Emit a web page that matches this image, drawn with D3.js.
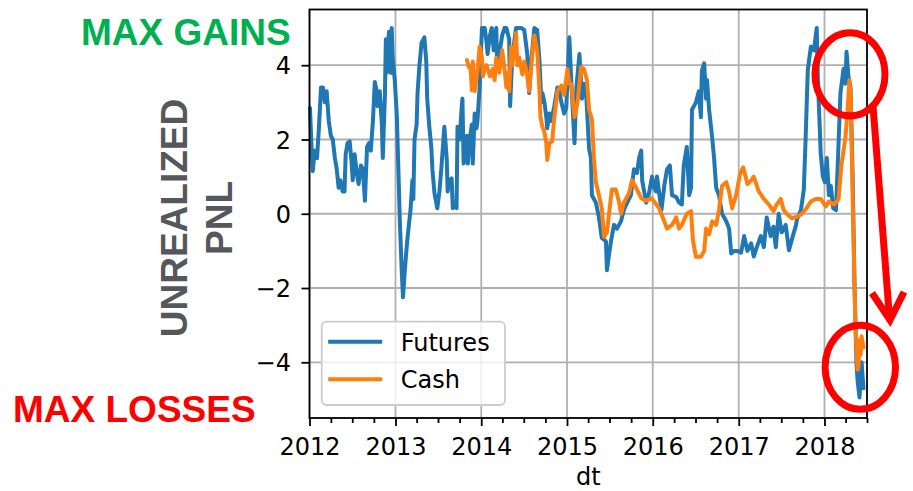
<!DOCTYPE html>
<html>
<head>
<meta charset="utf-8">
<script src="https://cdn.jsdelivr.net/npm/d3@7"></script>
<style>
  html, body { margin: 0; padding: 0; background: #fff; }
  svg { display: block; }
</style>
</head>
<body>
<svg id="chart" width="913" height="491"></svg>
<script>
// --- data ---
const futures = [
  ["2012-01-03", 2.85], ["2012-01-11", 1.6], ["2012-01-15", 1.15], ["2012-01-23", 1.7],
  ["2012-02-02", 1.5], ["2012-02-10", 2.3], ["2012-02-19", 3.4], ["2012-02-27", 3.4],
  ["2012-03-06", 3.0], ["2012-03-14", 3.3], ["2012-03-23", 2.5], ["2012-04-01", 2.1],
  ["2012-04-09", 2.0], ["2012-04-18", 1.5], ["2012-04-26", 1.2], ["2012-05-04", 0.7],
  ["2012-05-12", 0.9], ["2012-05-21", 0.6], ["2012-05-29", 0.6], ["2012-06-03", 1.6],
  ["2012-06-11", 1.9], ["2012-06-20", 1.95], ["2012-06-28", 1.4], ["2012-07-03", 0.9],
  ["2012-07-11", 1.6], ["2012-07-20", 1.1], ["2012-07-28", 0.8], ["2012-08-07", 1.3],
  ["2012-08-15", 1.2], ["2012-08-24", 0.35], ["2012-09-02", 1.8], ["2012-09-10", 1.9],
  ["2012-09-18", 1.7], ["2012-09-27", 2.5], ["2012-10-05", 3.55], ["2012-10-13", 3.3],
  ["2012-10-17", 2.9], ["2012-10-26", 3.3], ["2012-11-04", 2.4], ["2012-11-08", 1.5],
  ["2012-11-17", 3.2], ["2012-11-21", 4.7], ["2012-11-25", 3.8], ["2012-12-04", 4.9],
  ["2012-12-12", 3.8], ["2012-12-16", 5.0], ["2012-12-20", 4.2], ["2012-12-29", 3.6],
  ["2013-01-07", 2.6], ["2013-01-15", 0.8], ["2013-01-19", -0.1], ["2013-01-28", -1.6],
  ["2013-02-02", -2.25], ["2013-02-10", -1.5], ["2013-02-19", -0.8], ["2013-02-27", -0.3],
  ["2013-03-06", 0.1], ["2013-03-14", 0.9], ["2013-03-18", 0.4], ["2013-03-23", 2.0],
  ["2013-04-01", 2.4], ["2013-04-05", 3.25], ["2013-04-13", 4.0], ["2013-04-22", 4.6],
  ["2013-05-04", 4.75], ["2013-05-12", 4.1], ["2013-05-16", 3.1], ["2013-05-25", 2.34],
  ["2013-06-03", 1.75], ["2013-06-07", 1.2], ["2013-06-16", 0.55], ["2013-06-28", 0.15],
  ["2013-07-07", 0.6], ["2013-07-15", 1.2], ["2013-07-28", 2.34], ["2013-08-07", 1.5],
  ["2013-08-11", 0.6], ["2013-08-19", 0.9], ["2013-08-28", 0.95], ["2013-09-02", 0.15],
  ["2013-09-10", 0.3], ["2013-09-18", 0.15], ["2013-09-22", 2.34], ["2013-10-01", 2.0],
  ["2013-10-09", 2.8], ["2013-10-13", 3.1], ["2013-10-18", 1.35], ["2013-10-26", 1.9],
  ["2013-11-01", 2.1], ["2013-11-05", 1.35], ["2013-11-13", 2.0], ["2013-11-22", 2.4],
  ["2013-11-26", 1.35], ["2013-12-04", 2.7], ["2013-12-12", 2.3], ["2013-12-16", 2.5],
  ["2013-12-25", 3.4], ["2014-01-04", 5.0], ["2014-01-16", 5.0], ["2014-01-24", 4.6],
  ["2014-01-28", 4.3], ["2014-02-07", 4.8], ["2014-02-15", 5.0], ["2014-02-23", 4.4],
  ["2014-03-06", 5.0], ["2014-03-10", 3.9], ["2014-03-19", 4.3], ["2014-03-31", 4.8],
  ["2014-04-10", 5.0], ["2014-04-18", 5.0], ["2014-04-30", 4.7], ["2014-05-04", 2.9],
  ["2014-05-12", 4.1], ["2014-05-21", 4.6], ["2014-05-29", 5.0], ["2014-06-12", 5.0],
  ["2014-06-20", 5.0], ["2014-07-03", 4.95], ["2014-07-16", 4.3], ["2014-07-24", 3.25],
  ["2014-08-02", 4.1], ["2014-08-15", 5.0], ["2014-08-27", 4.95], ["2014-09-06", 4.1],
  ["2014-09-14", 3.0], ["2014-09-18", 3.25], ["2014-09-27", 3.0], ["2014-10-05", 2.6],
  ["2014-10-09", 2.3], ["2014-10-18", 2.7], ["2014-10-26", 2.5], ["2014-11-08", 2.9],
  ["2014-11-21", 3.4], ["2014-11-29", 3.3], ["2014-12-08", 3.0], ["2014-12-20", 2.7],
  ["2014-12-29", 2.85], ["2015-01-11", 4.75], ["2015-01-19", 3.6], ["2015-02-02", 1.9],
  ["2015-02-10", 3.4], ["2015-02-23", 4.3], ["2015-03-06", 3.1], ["2015-03-14", 3.5],
  ["2015-03-23", 3.3], ["2015-04-05", 1.75], ["2015-04-13", 1.5], ["2015-04-17", 0.5],
  ["2015-05-04", 0.3], ["2015-05-17", -0.1], ["2015-05-29", -0.65], ["2015-06-08", -0.7],
  ["2015-06-16", -0.75], ["2015-06-20", -1.52], ["2015-06-29", -1.1], ["2015-07-07", -0.75],
  ["2015-07-20", -0.3], ["2015-08-02", -0.4], ["2015-08-19", -0.2], ["2015-08-31", 0.1],
  ["2015-09-14", 0.3], ["2015-09-30", 0.5], ["2015-10-13", 1.2], ["2015-10-26", 1.1],
  ["2015-11-04", 1.5], ["2015-11-13", 1.7], ["2015-11-17", 0.9], ["2015-12-04", 0.3],
  ["2015-12-16", 0.55], ["2015-12-29", 1.0], ["2016-01-07", 0.7], ["2016-01-15", 0.6],
  ["2016-01-19", 1.0], ["2016-02-07", 0.1], ["2016-02-19", 0.75], ["2016-03-02", 1.2],
  ["2016-03-14", 1.3], ["2016-03-23", 0.5], ["2016-04-10", 0.45], ["2016-04-22", 0.3],
  ["2016-05-04", 0.25], ["2016-05-12", 1.3], ["2016-05-25", 1.8], ["2016-06-04", 0.5],
  ["2016-06-12", 0.7], ["2016-06-16", 2.8], ["2016-07-03", 3.0], ["2016-07-15", 3.3],
  ["2016-07-24", 2.6], ["2016-07-28", 3.85], ["2016-08-07", 4.05], ["2016-08-15", 3.1],
  ["2016-08-19", 3.6], ["2016-08-28", 2.8], ["2016-09-10", 2.05], ["2016-09-18", 1.5],
  ["2016-09-27", 0.7], ["2016-10-09", 0.5], ["2016-10-22", 0.0], ["2016-11-09", -0.2],
  ["2016-11-21", -0.4], ["2016-11-30", -1.07], ["2016-12-12", -1.0], ["2016-12-25", -1.0],
  ["2017-01-11", -1.05], ["2017-01-24", -0.6], ["2017-02-07", -1.0], ["2017-02-23", -0.8],
  ["2017-03-06", -1.15], ["2017-03-19", -0.9], ["2017-04-05", -0.6], ["2017-04-18", -0.9],
  ["2017-04-30", -0.1], ["2017-05-17", -0.6], ["2017-05-29", -0.35], ["2017-06-08", -0.9],
  ["2017-06-20", 0.0], ["2017-07-03", -0.5], ["2017-07-20", -0.3], ["2017-08-03", -0.98],
  ["2017-08-15", -0.7], ["2017-09-02", -0.3], ["2017-09-06", -0.15], ["2017-09-23", 0.1],
  ["2017-10-05", 0.65], ["2017-10-13", 2.07], ["2017-10-22", 3.87], ["2017-11-04", 4.5],
  ["2017-11-17", 4.4], ["2017-11-29", 5.0], ["2017-12-04", 3.6], ["2017-12-12", 2.3],
  ["2017-12-16", 1.62], ["2017-12-25", 1.0], ["2018-01-03", 0.85], ["2018-01-11", 1.5],
  ["2018-01-20", 0.5], ["2018-01-28", 0.75], ["2018-02-07", 0.15], ["2018-02-19", 0.1],
  ["2018-03-02", 1.9], ["2018-03-10", 3.25], ["2018-03-23", 3.9], ["2018-03-31", 3.5],
  ["2018-04-05", 4.36], ["2018-04-13", 3.7], ["2018-04-22", 3.4], ["2018-05-01", 1.0],
  ["2018-05-09", -2.0], ["2018-05-17", -4.0], ["2018-05-22", -4.5], ["2018-05-30", -4.95],
  ["2018-06-08", -4.0], ["2018-06-16", -4.7]
];

const cash = [
  ["2013-11-01", 4.14], ["2013-11-09", 3.95], ["2013-11-17", 3.9], ["2013-11-22", 3.33],
  ["2013-11-26", 4.1], ["2013-12-04", 3.3], ["2013-12-16", 3.85], ["2013-12-25", 4.5],
  ["2014-01-04", 4.2], ["2014-01-08", 3.7], ["2014-01-16", 3.9], ["2014-01-24", 4.0],
  ["2014-02-07", 3.7], ["2014-02-19", 3.9], ["2014-02-27", 3.6], ["2014-03-06", 4.2],
  ["2014-03-19", 3.8], ["2014-03-31", 4.4], ["2014-04-10", 3.9], ["2014-04-18", 3.4],
  ["2014-04-22", 3.8], ["2014-04-30", 3.3], ["2014-05-08", 4.5], ["2014-05-12", 4.0],
  ["2014-05-21", 4.3], ["2014-05-29", 4.87], ["2014-06-04", 4.0], ["2014-06-12", 4.2],
  ["2014-06-25", 3.75], ["2014-07-03", 4.1], ["2014-07-11", 3.9], ["2014-07-16", 3.7],
  ["2014-07-24", 3.3], ["2014-08-02", 4.0], ["2014-08-15", 4.8], ["2014-08-27", 4.4],
  ["2014-09-06", 3.3], ["2014-09-10", 2.6], ["2014-09-18", 2.35], ["2014-09-27", 2.2],
  ["2014-10-05", 1.9], ["2014-10-09", 1.45], ["2014-10-18", 1.9], ["2014-10-30", 1.95],
  ["2014-11-08", 2.6], ["2014-11-16", 3.0], ["2014-11-21", 3.3], ["2014-12-08", 3.45],
  ["2014-12-20", 3.2], ["2015-01-03", 3.9], ["2015-01-11", 3.5], ["2015-01-19", 3.5],
  ["2015-02-02", 2.6], ["2015-02-15", 3.0], ["2015-02-23", 3.5], ["2015-03-02", 3.95],
  ["2015-03-14", 3.9], ["2015-03-27", 3.6], ["2015-04-05", 2.8], ["2015-04-17", 2.55],
  ["2015-04-26", 1.45], ["2015-05-04", 0.85], ["2015-05-17", 0.5], ["2015-05-29", 0.15],
  ["2015-06-08", -0.62], ["2015-06-20", -0.5], ["2015-06-29", 0.0], ["2015-07-11", 0.65],
  ["2015-07-28", 0.65], ["2015-08-11", 0.3], ["2015-08-19", 0.0], ["2015-08-31", 0.3],
  ["2015-09-22", 0.55], ["2015-10-05", 0.9], ["2015-10-22", 0.7], ["2015-11-13", 0.42],
  ["2015-12-04", 0.35], ["2015-12-25", 0.42], ["2016-01-07", 0.33], ["2016-01-28", 0.15],
  ["2016-02-19", -0.2], ["2016-03-02", -0.4], ["2016-03-23", -0.3], ["2016-04-10", -0.1],
  ["2016-04-22", -0.4], ["2016-05-04", -0.3], ["2016-05-25", 0.0], ["2016-06-12", 0.07],
  ["2016-06-20", -0.72], ["2016-07-03", -1.16], ["2016-07-24", -1.16], ["2016-08-07", -1.0],
  ["2016-08-15", -0.4], ["2016-08-28", -0.55], ["2016-09-10", -0.2], ["2016-09-27", -0.3],
  ["2016-10-09", 0.1], ["2016-10-22", 0.75], ["2016-11-09", 0.85], ["2016-11-21", 0.6],
  ["2016-12-04", 0.15], ["2016-12-21", 0.5], ["2017-01-07", 1.08], ["2017-01-20", 1.25],
  ["2017-02-07", 0.8], ["2017-02-23", 0.9], ["2017-03-06", 1.0], ["2017-03-27", 0.6],
  ["2017-04-18", 0.4], ["2017-05-09", 0.25], ["2017-05-29", 0.07], ["2017-06-12", 0.25],
  ["2017-06-29", 0.4], ["2017-07-11", 0.1], ["2017-07-24", 0.0], ["2017-08-15", -0.12],
  ["2017-09-06", -0.08], ["2017-09-27", 0.0], ["2017-10-17", 0.15], ["2017-11-04", 0.33],
  ["2017-11-25", 0.4], ["2017-12-16", 0.4], ["2018-01-07", 0.2], ["2018-01-20", 0.33],
  ["2018-02-11", 0.25], ["2018-03-02", 0.4], ["2018-03-14", 1.3], ["2018-03-31", 2.05],
  ["2018-04-09", 2.75], ["2018-04-17", 3.6], ["2018-04-22", 3.25], ["2018-04-26", 2.0],
  ["2018-05-05", -0.8], ["2018-05-13", -3.05], ["2018-05-17", -3.6], ["2018-05-22", -4.2],
  ["2018-05-26", -4.1], ["2018-05-30", -3.4], ["2018-06-04", -3.8], ["2018-06-08", -3.3],
  ["2018-06-16", -3.6]
];

const seriesNames  = ["Futures", "Cash"];
const seriesColors = ["#1f77b4", "#ff7f0e"];
const yTicks  = [-4, -2, 0, 2, 4];
const xYears  = [2012, 2013, 2014, 2015, 2016, 2017, 2018];
const xLabel  = "dt";
const yLabel  = ["UNREALIZED", "PNL"];

// --- scales ---
const parse = d3.timeParse("%Y-%m-%d");
const plot = { left: 309.5, right: 867, top: 9.5, bottom: 418 };

const x = d3.scaleTime()
  .domain([new Date(2012, 0, 1), new Date(2018, 6, 1)])
  .range([plot.left, plot.right]);
const y = d3.scaleLinear()
  .domain([-5.5, 5.5])
  .range([plot.bottom, plot.top]);

const svg = d3.select("#chart");
const tickFont = "'DejaVu Sans', sans-serif";
const boldFont = "'Liberation Sans', Arial, sans-serif";

const yearDates  = xYears.map(yr => new Date(yr, 0, 1));
const minorDates = d3.timeMonth.every(3).range(x.domain()[0], d3.timeDay.offset(x.domain()[1], 1))
  .filter(d => d.getMonth() !== 0);

// --- grid ---
const grid = svg.append("g").attr("stroke", "#b0b0b0").attr("stroke-width", 1.8);
grid.selectAll(".gx").data(yearDates).join("line")
  .attr("x1", d => x(d)).attr("x2", d => x(d))
  .attr("y1", plot.top).attr("y2", plot.bottom);
grid.selectAll(".gy").data(yTicks).join("line")
  .attr("x1", plot.left).attr("x2", plot.right)
  .attr("y1", d => y(d)).attr("y2", d => y(d));

// --- series ---
const line = d3.line()
  .x(d => x(parse(d[0])))
  .y(d => y(d[1]));

[futures, cash].forEach((s, i) => {
  svg.append("path")
    .datum(s)
    .attr("fill", "none")
    .attr("stroke", seriesColors[i])
    .attr("stroke-width", 4)
    .attr("stroke-linejoin", "round")
    .attr("stroke-linecap", "round")
    .attr("d", line);
});

// --- axes ---
const xAxis = svg.append("g")
  .attr("transform", `translate(0,${plot.bottom})`)
  .call(d3.axisBottom(x).tickValues(yearDates).tickFormat(d3.timeFormat("%Y"))
    .tickSize(8).tickPadding(12));
const xMinor = svg.append("g")
  .attr("transform", `translate(0,${plot.bottom})`)
  .call(d3.axisBottom(x).tickValues(minorDates).tickFormat("").tickSize(5));
const yAxis = svg.append("g")
  .attr("transform", `translate(${plot.left},0)`)
  .call(d3.axisLeft(y).tickValues(yTicks).tickFormat(d3.format("d"))
    .tickSize(8).tickPadding(10.5));

[xAxis, xMinor, yAxis].forEach(g => {
  g.select(".domain").remove();
  g.selectAll(".tick line").attr("stroke", "#000").attr("stroke-width", 1.8);
  g.selectAll("text")
    .attr("fill", "#000")
    .style("font-family", tickFont)
    .style("font-size", "24px");
});
yAxis.selectAll("text").attr("dy", "0.36em");

// spines
svg.append("rect")
  .attr("x", plot.left).attr("y", plot.top)
  .attr("width", plot.right - plot.left).attr("height", plot.bottom - plot.top)
  .attr("fill", "none").attr("stroke", "#000").attr("stroke-width", 1.8);

svg.append("text")
  .attr("x", (plot.left + plot.right) / 2).attr("y", 485)
  .attr("text-anchor", "middle")
  .style("font-family", tickFont).style("font-size", "24px")
  .text(xLabel);

// --- legend ---
const legend = svg.append("g").attr("transform", "translate(321.7,321.7)");
legend.append("rect")
  .attr("width", 183.3).attr("height", 83.3).attr("rx", 5)
  .attr("fill", "#fff").attr("fill-opacity", 0.8)
  .attr("stroke", "#cccccc").attr("stroke-width", 1.8);
const items = legend.selectAll(".item").data(seriesNames).join("g")
  .attr("transform", (d, i) => `translate(0,${20 + i * 37.6})`);
items.append("line")
  .attr("x1", 6.5).attr("x2", 60.5)
  .attr("stroke", (d, i) => seriesColors[i]).attr("stroke-width", 4);
items.append("text")
  .attr("x", 79).attr("y", 9)
  .style("font-family", tickFont).style("font-size", "24px")
  .text(d => d);

// --- annotations ---
svg.append("text")
  .attr("x", 81).attr("y", 45)
  .attr("fill", "#00b050")
  .style("font-family", boldFont).style("font-weight", "bold").style("font-size", "37px")
  .text("MAX GAINS");
svg.append("text")
  .attr("x", 13).attr("y", 421.5)
  .attr("fill", "#ff0000")
  .style("font-family", boldFont).style("font-weight", "bold").style("font-size", "37px")
  .text("MAX LOSSES");

svg.selectAll(".ylab").data(yLabel).join("text")
  .attr("transform", (d, i) => `translate(${187 + i * 45},218) rotate(-90)`)
  .attr("text-anchor", "middle")
  .attr("fill", "#54575b")
  .style("font-family", boldFont).style("font-weight", "bold").style("font-size", "37px")
  .text(d => d);

const red = svg.append("g").attr("fill", "none").attr("stroke", "#ff0000").attr("stroke-width", 7);
red.append("ellipse").attr("cx", 850).attr("cy", 74.3).attr("rx", 35).attr("ry", 41.5);
red.append("ellipse").attr("cx", 860.3).attr("cy", 367.2).attr("rx", 35.2).attr("ry", 42);
red.append("line").attr("x1", 873).attr("y1", 106).attr("x2", 889.5).attr("y2", 318);
red.append("polyline")
  .attr("points", "872,293 890,320 904,292")
  .attr("stroke-linejoin", "miter");
</script>
</body>
</html>
